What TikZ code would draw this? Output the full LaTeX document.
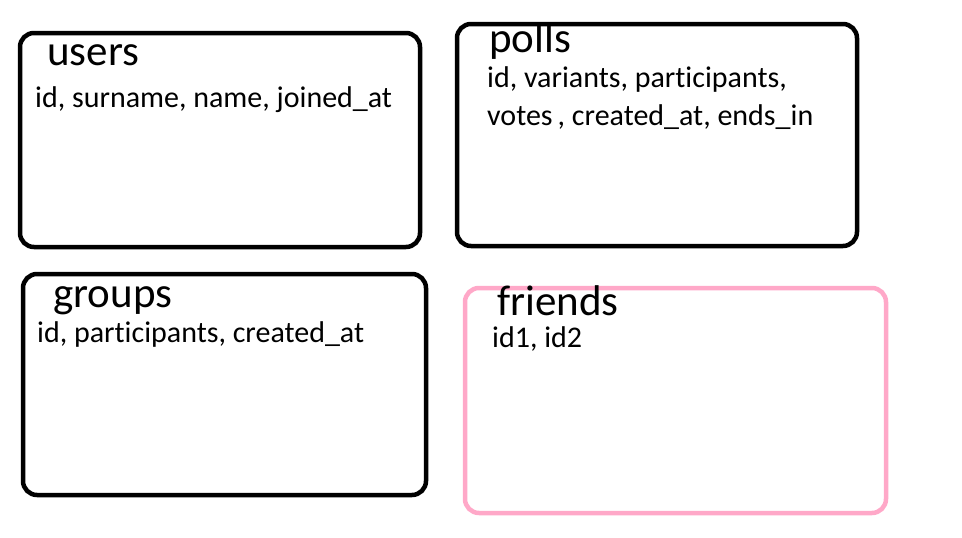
\documentclass[tikz,border=0pt]{standalone}
\usepackage{fontspec}
\setmainfont[Ligatures=CommonOff]{Carlito}
\usetikzlibrary{positioning}
\definecolor{pinkline}{RGB}{255,168,200}
\tikzset{
    table/.style = {rectangle, rounded corners=14pt, line width=4.5pt, draw=black, inner sep=0pt},
    tablep/.style = {table, draw=pinkline},
    title/.style = {anchor=base west, inner sep=0pt, font=\fontsize{43}{50}\selectfont},
    fields/.style = {anchor=base west, inner sep=0pt, align=left, font=\fontsize{30}{38}\selectfont}
}
\begin{document}
\begin{tikzpicture}[x=1pt,y=-1pt]
\useasboundingbox (0,0) rectangle (962,538);
%
\node[table, minimum width=400pt, minimum height=214pt] at (220,140) (users) {};
\node[table, minimum width=400pt, minimum height=222pt] at (657,135) (polls) {};
\node[table, minimum width=403pt, minimum height=221pt] at (224.5,384.5) (groups) {};
\node[tablep, minimum width=421pt, minimum height=225pt] at (675.5,400.5) (friends) {};
%
\node[title] at (47,65) (usersname) {users};
\node[fields] at (35,107) (usersf) {id, surname, name, joined\_at};
\node[title] at (489,52) (pollsname) {polls};
\node[fields] at (487,87) (pollsf1) {id, variants, participants,};
\node[fields] at (487,125) (pollsf2) {votes\,, created\_at, ends\_in};
\node[title] at (53,307) (groupsname) {groups};
\node[fields] at (37,342) (groupsf) {id, participants, created\_at};
\node[title] at (497,315) (friendsname) {friends};
\node[fields] at (492,347) (friendsf) {id1, id2};
\end{tikzpicture}
\end{document}
